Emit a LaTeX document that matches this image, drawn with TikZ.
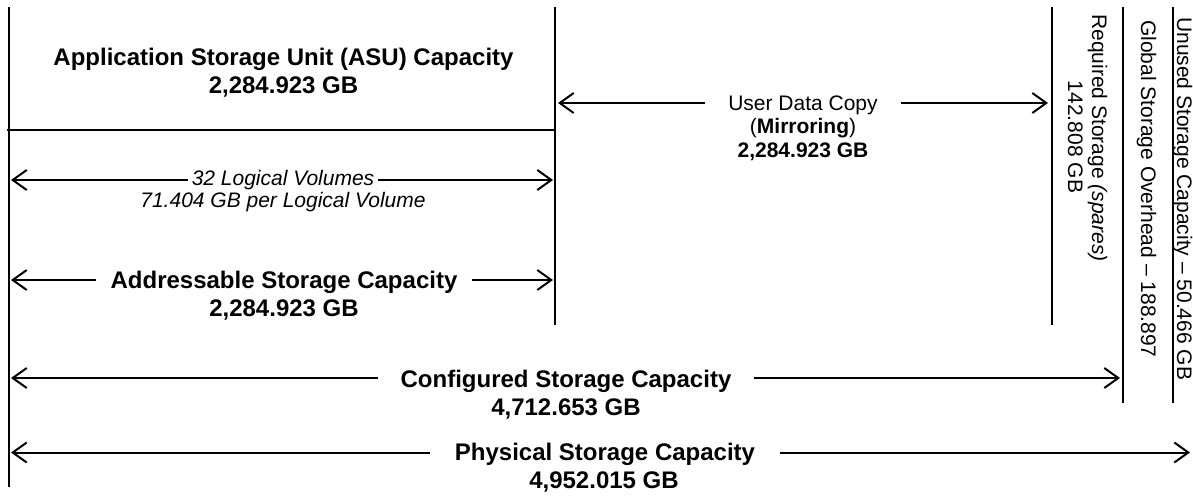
\documentclass[tikz,border=0pt]{standalone}
\usepackage{fontspec}
\setmainfont{Liberation Sans}
\usetikzlibrary{arrows.meta}
\begin{document}
\begin{tikzpicture}[x=1pt,y=-1pt,
  ln/.style={line width=2pt},
  arr/.style={line width=2pt,-{Straight Barb[length=14pt,width=20pt]}},
  big/.style={font=\fontsize{24}{27}\selectfont\bfseries, inner sep=0pt, anchor=base},
  med/.style={font=\fontsize{21}{23}\selectfont, inner sep=0pt, anchor=base},
  medb/.style={font=\fontsize{21}{23}\selectfont\bfseries, inner sep=0pt, anchor=base},
  medit/.style={font=\fontsize{21}{23}\selectfont\itshape, inner sep=0pt, anchor=base},
  vt/.style={font=\fontsize{21}{24}\selectfont, inner sep=0pt, rotate=-90, anchor=base west},
  vtc/.style={font=\fontsize{21}{24}\selectfont, inner sep=0pt, rotate=-90, anchor=base}]
\useasboundingbox (0,0) rectangle (1193,496);
\fill[white] (0,0) rectangle (1193,496);
% frame lines
\coordinate (v0t) at (9,7);    \coordinate (v0b) at (9,487);
\coordinate (v1t) at (555,7);  \coordinate (v1b) at (555,325);
\coordinate (v2t) at (1052,7); \coordinate (v2b) at (1052,325);
\coordinate (v3t) at (1123,7); \coordinate (v3b) at (1123,403);
\coordinate (v4t) at (1173,7); \coordinate (v4b) at (1173,403);
\coordinate (hl) at (7,130);   \coordinate (hr) at (555,130);
\draw[ln] (v0t) -- (v0b);
\draw[ln] (v1t) -- (v1b);
\draw[ln] (v2t) -- (v2b);
\draw[ln] (v3t) -- (v3b);
\draw[ln] (v4t) -- (v4b);
\draw[ln] (hl) -- (hr);
% ASU
\node[big] (asu) at (283.5,65.5) {Application Storage Unit (ASU) Capacity};
\node[big] (asuv) at (283.5,93) {2,284.923 GB};
% Logical volumes
\node[medit, inner xsep=4pt] (lv) at (283,185.5) {32 Logical Volumes};
\node[medit] (lvv) at (283,207.5) {71.404 GB per Logical Volume};
\coordinate (lvL) at (11,180); \coordinate (lvR) at (553,180);
\draw[arr] (lv.west |- lvL) -- (lvL);
\draw[arr] (lv.east |- lvR) -- (lvR);
% Addressable
\node[big, inner xsep=14pt] (adr) at (284,288.5) {Addressable Storage Capacity};
\node[big] (adrv) at (284,316) {2,284.923 GB};
\coordinate (adL) at (11,280); \coordinate (adR) at (553,280);
\draw[arr] (adr.west |- adL) -- (adL);
\draw[arr] (adr.east |- adR) -- (adR);
% Mirroring
\node[med, inner xsep=23pt] (udc) at (803,110.5) {User Data Copy};
\node[med] (mir) at (803,133) {(\textbf{Mirroring})};
\node[medb] (mirv) at (803,157) {2,284.923 GB};
\coordinate (mL) at (558,103); \coordinate (mR) at (1048,103);
\draw[arr] (udc.west |- mL) -- (mL);
\draw[arr] (udc.east |- mR) -- (mR);
% Configured
\node[big, inner xsep=22pt] (cfg) at (566,387.5) {Configured Storage Capacity};
\node[big] (cfgv) at (566,415) {4,712.653 GB};
\coordinate (cL) at (11,378); \coordinate (cR) at (1120,378);
\draw[arr] (cfg.west |- cL) -- (cL);
\draw[arr] (cfg.east |- cR) -- (cR);
% Physical
\node[big, inner xsep=25pt] (phy) at (605,460) {Physical Storage Capacity};
\node[big] (phyv) at (604,488) {4,952.015 GB};
\coordinate (pL) at (11,452.5); \coordinate (pR) at (1190,452.5);
\draw[arr] (phy.west |- pL) -- (pL);
\draw[arr] (phy.east |- pR) -- (pR);
% right vertical texts
\node[vtc] (req) at (1092,138) {Required Storage \textit{(spares)}};
\node[vtc] (reqv) at (1068,137) {142.808 GB};
\node[vt] (gso) at (1141,20) {Global Storage Overhead – 188.897};
\node[vt] (uns) at (1177,17) {Unused Storage Capacity – 50.466 GB};
\end{tikzpicture}
\end{document}
